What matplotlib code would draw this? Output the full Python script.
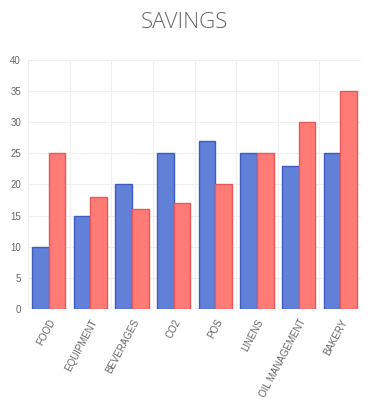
import matplotlib
matplotlib.use("Agg")
import matplotlib.pyplot as plt
import numpy as np

categories = ["FOOD", "EQUIPMENT", "BEVERAGES", "CO2", "POS", "LINENS", "OIL MANAGEMENT", "BAKERY"]
series_blue = [10, 15, 20, 25, 27, 25, 23, 25]
series_red = [25, 18, 16, 17, 20, 25, 30, 35]
yticks = [0, 5, 10, 15, 20, 25, 30, 35, 40]

fig = plt.figure(figsize=(3.68, 4.0), dpi=100)
ax = fig.add_axes([28/368, 1-309/400, (361-28)/368, (309-60)/400])

x = np.arange(len(categories))
w = 0.4
ax.bar(x - w/2, series_blue, width=w, color="#6180d8", edgecolor="#3e5cc2", linewidth=1.0, zorder=3)
ax.bar(x + w/2, series_red, width=w, color="#ff7b76", edgecolor="#e8575a", linewidth=1.0, zorder=3)

ax.set_xlim(-0.5, len(categories) - 0.5)
ax.set_ylim(0, 40)
ax.set_yticks(yticks)
ax.set_yticklabels([str(v) for v in yticks], fontsize=7, color="#666666", family="Liberation Sans")
ax.set_xticks(x)
ax.set_xticklabels(categories, rotation=62, ha="right", va="top", rotation_mode="anchor",
                   fontsize=7, color="#666666", family="Liberation Sans")
ax.tick_params(axis="both", length=0, pad=5)
ax.tick_params(axis="x", pad=6)

for b in np.arange(-0.5, len(categories) + 0.5, 1):
    ax.axvline(b, color="#efefef", linewidth=0.8, zorder=0)
for v in yticks:
    ax.axhline(v, color="#efefef", linewidth=0.8, zorder=0)
ax.axhline(0, color="#dddddd", linewidth=0.8, zorder=1)

for s in ax.spines.values():
    s.set_visible(False)

fig.text(0.5, 1-22/400, "SAVINGS", ha="center", va="center", fontsize=16, color="#666666",
         family="Open Sans", fontweight="light")

fig.savefig("out.png", dpi=100, facecolor="white")
